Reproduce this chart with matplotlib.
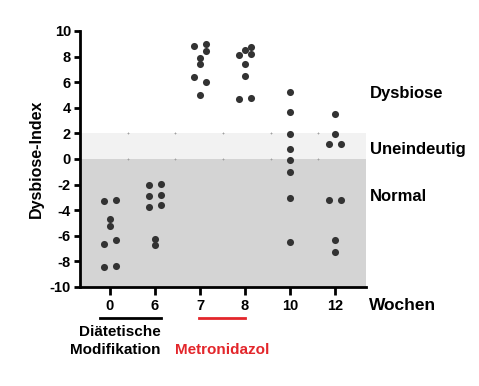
import matplotlib.pyplot as plt
import matplotlib.transforms as mtransforms

plt.rcParams["font.family"] = ["Liberation Sans", "DejaVu Sans"]
plt.rcParams["axes.unicode_minus"] = False

# Dysbiose-Index je Zeitpunkt (Wochen)
weeks = ["0", "6", "7", "8", "10", "12"]
w0 = [-3.30, -3.17, -4.65, -5.21, -6.67, -6.36, -8.40, -8.35]
w6 = [-2.05, -1.92, -2.93, -2.85, -3.76, -3.56, -6.25, -6.74]
w7 = [8.85, 8.96, 8.46, 7.87, 7.43, 6.44, 6.02, 5.01]
w8 = [8.10, 8.54, 8.75, 8.18, 7.45, 6.52, 4.70, 4.78]
w10 = [5.25, 3.69, 1.97, 0.80, -0.05, -0.99, -3.02, -6.50]
w12 = [3.50, 1.97, 1.14, 1.14, -3.20, -3.20, -6.30, -7.25]
# swarm side of each point (-1 left, 0 centre, 1 right)
side0 = [-1, 1, 0, 0, -1, 1, -1, 1]
side6 = [-1, 1, -1, 1, -1, 1, 0, 0]
side7 = [-1, 1, 1, 0, 0, -1, 1, 0]
side8 = [-1, 0, 1, 1, 0, 0, -1, 1]
side10 = [0, 0, 0, 0, 0, 0, 0, 0]
side12 = [0, 0, -1, 1, -1, 1, 0, 0]

groups = [w0, w6, w7, w8, w10, w12]
sides = [side0, side6, side7, side8, side10, side12]

zones = ["Dysbiose", "Uneindeutig", "Normal"]
zone_y = [5.1, 0.72, -2.95]

red = "#e3262b"

fig = plt.figure(figsize=(4.79, 3.86), dpi=100)
ax = fig.add_axes([0.167, 0.2565, 0.597, 0.6632])

ax.axhspan(-10, 0, color="#d4d4d4", zorder=0, lw=0)
ax.axhspan(0, 2, color="#f2f2f2", zorder=0, lw=0)

# little grid crosses
blend = mtransforms.blended_transform_factory(ax.transAxes, ax.transData)
for k in range(1, 6):
    for yy in (0, 2):
        ax.plot(k / 6, yy, marker="+", ms=1.8, mew=0.6, color="#a0a0a0",
                transform=blend, zorder=1)

dx = 0.128
for i, (vals, sd) in enumerate(zip(groups, sides)):
    xs = [i + s * dx for s in sd]
    ax.scatter(xs, vals, s=26, color="#333333", zorder=3, lw=0)

ax.set_xlim(-0.667, 5.69)
ax.set_ylim(-10, 10)
ax.set_yticks(range(-10, 11, 2))
ax.set_xticks(range(len(weeks)))
ax.set_xticklabels(weeks)

for s in ["top", "right"]:
    ax.spines[s].set_visible(False)
for s in ["left", "bottom"]:
    ax.spines[s].set_linewidth(2)
ax.tick_params(axis="both", width=2, length=4.5, labelsize=10.5, pad=2)
ax.tick_params(axis="x", length=6, pad=3)
for lab in ax.get_xticklabels() + ax.get_yticklabels():
    lab.set_fontweight("bold")

ax.set_ylabel("Dysbiose-Index", fontsize=11.5, fontweight="bold", labelpad=4)

for name, yy in zip(zones, zone_y):
    ax.text(5.78, yy, name, fontsize=12, fontweight="bold", va="center",
            ha="left", clip_on=False)

ax.text(5.75, -11.45, "Wochen", fontsize=12.5, fontweight="bold",
        va="center", ha="left", clip_on=False)

# treatment bars below the axis
ax.plot([-0.22, 1.13], [-12.45, -12.45], color="black", lw=2, clip_on=False)
ax.plot([1.98, 3.0], [-12.45, -12.45], color=red, lw=2, clip_on=False)
ax.text(1.13, -14.2, "Diätetische\nModifikation", fontsize=11,
        fontweight="bold", ha="right", va="center", linespacing=1.4,
        clip_on=False)
ax.text(1.45, -14.95, "Metronidazol", fontsize=11, fontweight="bold",
        color=red, ha="left", va="center", clip_on=False)

fig.savefig("out.png", dpi=100)
